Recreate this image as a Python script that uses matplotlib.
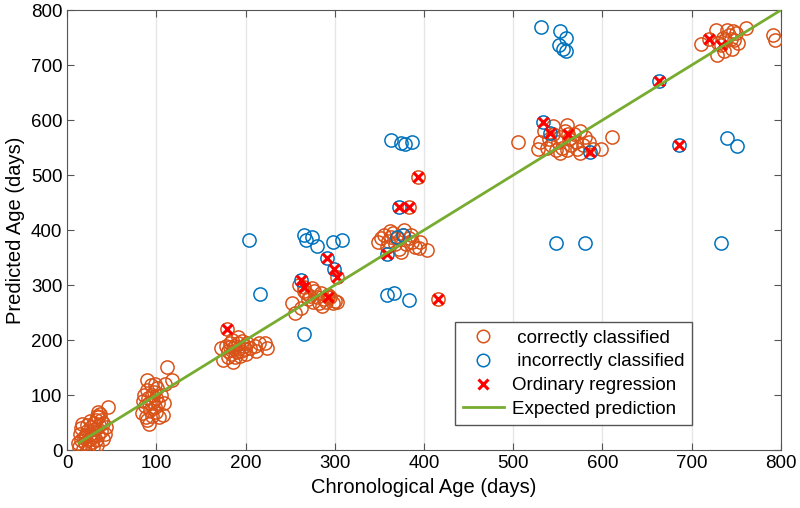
import matplotlib
matplotlib.use("Agg")
import matplotlib.pyplot as plt
from matplotlib.lines import Line2D

plt.rcParams['font.family'] = ['Liberation Sans', 'DejaVu Sans']

# correctly classified (orange)
correct_x = [13,15,14,16,18,20,20,22,22,24,25,26,27,28,30,30,31,32,33,34,35,36,37,38,40,40,42,44,46,17,19,23,29,33,35,38,12,26,21,32,
             84,85,86,87,88,89,90,90,91,92,93,94,95,95,96,97,98,98,99,100,101,102,103,105,107,109,112,117,110,92,
             172,175,178,180,182,184,185,186,188,190,191,192,193,195,196,198,200,202,205,210,212,215,222,224,186,180,188,194,199,183,179,
             252,255,262,265,268,270,272,275,277,280,282,285,288,290,292,295,298,300,303,260,274,286,266,292,302,
             348,352,355,358,360,363,365,368,370,372,374,376,378,380,383,387,390,394,396,403,362,385,383,393,416,
             505,530,535,538,540,542,545,548,550,552,555,558,560,562,565,568,570,572,575,578,580,585,590,598,611,545,560,552,528,575,561,
             711,720,727,728,730,733,735,738,740,742,744,745,748,750,752,761,791,794,736,746]
correct_y = [5,18,30,40,2,12,25,35,45,8,20,30,42,15,50,25,38,55,10,60,28,45,65,35,50,20,30,42,78,48,22,3,5,62,70,55,12,52,28,18,
             67,90,100,80,60,55,127,110,95,85,72,118,100,62,88,105,78,120,95,70,112,85,60,100,64,85,151,127,120,48,
             185,163,190,180,195,175,200,185,190,178,195,205,185,180,198,190,175,195,185,190,180,195,195,185,160,170,170,172,183,188,220,
             268,250,258,290,285,275,280,270,290,278,268,285,275,270,282,278,268,272,270,300,295,262,297,279,315,
             378,385,392,370,380,388,395,375,385,365,361,392,400,375,385,379,370,367,379,364,398,392,442,496,274,
             561,560,580,550,565,555,575,545,560,570,550,580,545,565,555,575,560,548,580,555,570,560,548,548,570,590,592,540,548,540,575,
             739,748,764,718,740,736,750,745,764,755,748,730,745,758,740,767,755,745,725,762]

# incorrectly classified (blue)
wrong_x = [204,216,265,266,274,268,280,298,308,359,366,383,363,374,379,387,531,552,559,551,556,559,548,580,733,740,751,370,377,
           262,291,299,359,372,533,541,586,663,686]
wrong_y = [382,284,211,391,387,382,371,379,382,282,285,273,564,559,556,561,769,762,749,736,730,725,377,377,377,567,553,387,391,
           309,350,330,357,442,596,576,542,671,555]

# ordinary regression (red x)
ord_x = [179,266,292,302,383,393,416,561,720,733,262,291,299,359,372,533,541,586,663,686]
ord_y = [220,297,279,315,442,496,274,575,748,736,309,350,330,357,442,596,576,542,671,555]

expected = [13, 800]

fig = plt.figure(figsize=(8, 5.08), dpi=100)
ax = fig.add_axes([0.084, 0.114, 0.892, 0.866])

orange = '#D95319'
blue = '#0072BD'
ax.plot(correct_x, correct_y, 'o', mfc='none', mec=orange, ms=9.5, mew=1.1, zorder=3)
ax.plot(wrong_x, wrong_y, 'o', mfc='none', mec=blue, ms=9.5, mew=1.1, zorder=3)
ax.plot(ord_x, ord_y, 'x', color='red', ms=7, mew=2.2, zorder=4)
ax.plot(expected, expected, '-', color='#77AC30', lw=2, zorder=5)

ax.set_xlim(0, 800)
ax.set_ylim(0, 800)
ax.set_xticks(range(0, 801, 100))
ax.set_yticks(range(0, 801, 100))
ax.tick_params(direction='in', top=True, right=True, labelsize=13.5, length=5, color='#555555')
ax.grid(axis='x', color='#e6e6e6', lw=1, zorder=0)
ax.set_axisbelow(True)
for s in ax.spines.values():
    s.set_color('#555555')
ax.set_xlabel('Chronological Age (days)', fontsize=14.5)
ax.set_ylabel('Predicted Age (days)', fontsize=14.5)

handles = [
    Line2D([], [], ls='none', marker='o', mfc='none', mec=orange, ms=9, mew=1.1),
    Line2D([], [], ls='none', marker='o', mfc='none', mec=blue, ms=9, mew=1.1),
    Line2D([], [], ls='none', marker='x', color='red', ms=7, mew=2.2),
    Line2D([], [], color='#77AC30', lw=2),
]
labels = [' correctly classified', ' incorrectly classified', 'Ordinary regression', 'Expected prediction']
leg = ax.legend(handles, labels, loc='lower right', bbox_to_anchor=(0.888, 0.035), fontsize=13.5,
                frameon=True, fancybox=False, edgecolor='#555555', framealpha=1,
                handlelength=2.2, labelspacing=0.35, borderpad=0.4, handletextpad=0.4)
leg.get_frame().set_linewidth(1)

fig.savefig('out.png', dpi=100)
